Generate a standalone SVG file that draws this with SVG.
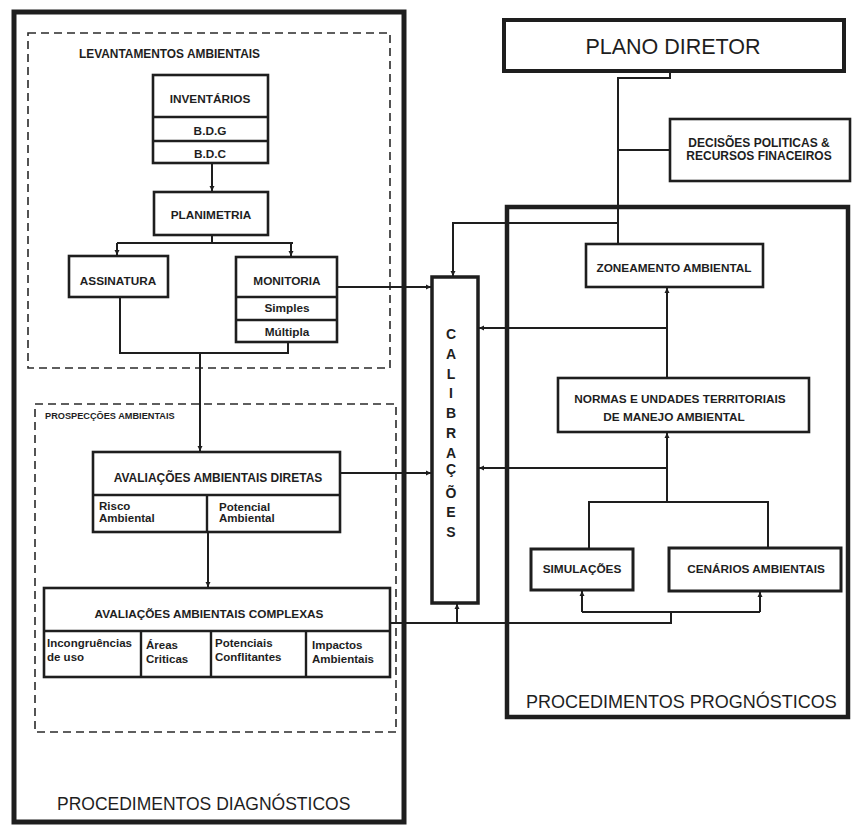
<svg xmlns="http://www.w3.org/2000/svg" width="852" height="828" viewBox="0 0 852 828">
<style>
text{font-family:"Liberation Sans",Arial,sans-serif;fill:#1e1e1e}
.b{font-weight:bold;font-size:11.8px}
.s{font-weight:bold;font-size:11.5px}
.m{text-anchor:middle}
.big{font-size:17.5px}
.box{fill:#fff;stroke:#1e1e1e;stroke-width:2.6}
.div{fill:none;stroke:#1e1e1e;stroke-width:2.4}
.frame{fill:none;stroke:#1e1e1e;stroke-width:5}
.dash{fill:none;stroke:#2a2a2a;stroke-width:1.6;stroke-dasharray:8 5}
.conn{fill:none;stroke:#1e1e1e;stroke-width:2}
.arr{marker-end:url(#ah)}
</style>
<defs>
<marker id="ah" markerUnits="userSpaceOnUse" markerWidth="6" markerHeight="6" refX="5" refY="3" orient="auto">
<path d="M0,0.5 L5,3 L0,5.5 z" fill="#1e1e1e"/>
</marker>
</defs>
<rect width="852" height="828" fill="#fff"/>

<g id="diagnosticos">
<rect class="frame" x="14" y="12" width="390" height="810"/>
<text x="57" y="810" class="big">PROCEDIMENTOS DIAGNÓSTICOS</text>
</g>
<g id="levantamentos">
<rect class="dash" x="28" y="33" width="362" height="335"/>
<text x="79" y="58" style="font-size:11.9px;font-weight:bold">LEVANTAMENTOS AMBIENTAIS</text>
</g>
<g id="prospeccoes">
<rect class="dash" x="35" y="404" width="361" height="328"/>
<text x="45" y="419" style="font-size:9.2px;font-weight:bold">PROSPECÇÕES AMBIENTAIS</text>
</g>
<g id="prognosticos">
<rect class="frame" x="507" y="207" width="341" height="510" style="stroke-width:4.5"/>
<text x="526" y="708" style="font-size:18px">PROCEDIMENTOS PROGNÓSTICOS</text>
</g>

<g id="connectors">
<path class="conn arr" d="M212,163 V191"/>
<path class="conn" d="M212,235 V243 M117,243 H293"/>
<path class="conn arr" d="M117,243 V255"/>
<path class="conn arr" d="M291,243 V256"/>
<path class="conn" d="M120,297 V353 H288 V342"/>
<path class="conn arr" d="M200,353 V451"/>
<path class="conn arr" d="M337,287 H431"/>
<path class="conn arr" d="M340,473 H431"/>
<path class="conn arr" d="M208,532 V587"/>
<path class="conn" d="M390,623 H671 V612 M582,612 H760"/>
<path class="conn arr" d="M582,612 V591"/>
<path class="conn arr" d="M760,612 V592"/>
<path class="conn arr" d="M457,623 V604"/>
<path class="conn" d="M670,71 V78 H618 V243 M618,150 H669"/>
<path class="conn arr" d="M618,223 H453 V276"/>
<path class="conn arr" d="M667,377 V288"/>
<path class="conn arr" d="M667,328 H479"/>
<path class="conn arr" d="M667,502 V433"/>
<path class="conn arr" d="M667,468 H479"/>
<path class="conn" d="M589,548 V502 H768 V547"/>
</g>

<g id="inventarios">
<rect class="box" x="153" y="75" width="115" height="88"/>
<path class="div" d="M153,117 H268 M153,141 H268"/>
<text x="210" y="103" class="b m">INVENTÁRIOS</text>
<text x="210" y="135" class="b m">B.D.G</text>
<text x="210" y="158" class="b m">B.D.C</text>
</g>
<g id="planimetria">
<rect class="box" x="154" y="192" width="114" height="43"/>
<text x="211" y="219" class="b m">PLANIMETRIA</text>
</g>
<g id="assinatura">
<rect class="box" x="69" y="256" width="99" height="41"/>
<text x="118" y="285" class="b m">ASSINATURA</text>
</g>
<g id="monitoria">
<rect class="box" x="236" y="257" width="101" height="85"/>
<path class="div" d="M236,297 H337 M236,320 H337"/>
<text x="287" y="285" class="b m">MONITORIA</text>
<text x="287" y="312" class="b m">Simples</text>
<text x="287" y="336" class="b m">Múltipla</text>
</g>
<g id="diretas">
<rect class="box" x="93" y="452" width="247" height="80"/>
<path class="div" d="M93,495 H340 M207,495 V532"/>
<text x="218" y="482" class="m" style="font-size:12px;font-weight:bold">AVALIAÇÕES AMBIENTAIS DIRETAS</text>
<text class="s"><tspan x="99" y="510">Risco</tspan><tspan x="99" y="522">Ambiental</tspan></text>
<text class="s"><tspan x="219" y="511">Potencial</tspan><tspan x="219" y="522">Ambiental</tspan></text>
</g>
<g id="complexas">
<rect class="box" x="44" y="588" width="346" height="89"/>
<path class="div" d="M44,631 H390 M141,631 V677 M211,631 V677 M306,631 V677"/>
<text x="209" y="618" class="b m">AVALIAÇÕES AMBIENTAIS COMPLEXAS</text>
<text class="s"><tspan x="47" y="647">Incongruências</tspan><tspan x="47" y="661">de uso</tspan></text>
<text class="s"><tspan x="146" y="649">Áreas</tspan><tspan x="146" y="663">Criticas</tspan></text>
<text class="s"><tspan x="215" y="647">Potenciais</tspan><tspan x="215" y="661">Conflitantes</tspan></text>
<text class="s"><tspan x="312" y="649">Impactos</tspan><tspan x="312" y="663">Ambientais</tspan></text>
</g>
<g id="calibracoes">
<rect class="box" x="432" y="277" width="46" height="326" style="stroke-width:3.5"/>
<text class="m" style="font-size:14px;font-weight:bold">
<tspan x="451" y="339">C</tspan><tspan x="451" y="359">A</tspan><tspan x="451" y="379">L</tspan><tspan x="451" y="398">I</tspan><tspan x="451" y="418">B</tspan><tspan x="451" y="438">R</tspan><tspan x="451" y="458">A</tspan><tspan x="451" y="474">Ç</tspan><tspan x="451" y="498">Õ</tspan><tspan x="451" y="517">E</tspan><tspan x="451" y="537">S</tspan>
</text>
</g>
<g id="plano-diretor">
<rect class="box" x="504" y="20" width="340" height="51" style="stroke-width:4"/>
<text x="673" y="54" class="m" style="font-size:21.5px">PLANO DIRETOR</text>
</g>
<g id="decisoes">
<rect class="box" x="670" y="119" width="180" height="62"/>
<text class="m" style="font-size:12px;font-weight:bold"><tspan x="759" y="147">DECISÕES POLITICAS &amp;</tspan><tspan x="759" y="160">RECURSOS FINACEIROS</tspan></text>
</g>
<g id="zoneamento">
<rect class="box" x="586" y="244" width="177" height="43"/>
<text x="674" y="272" class="b m">ZONEAMENTO AMBIENTAL</text>
</g>
<g id="normas">
<rect class="box" x="558" y="378" width="251" height="54"/>
<text x="680" y="403" class="b m">NORMAS E UNDADES TERRITORIAIS</text>
<text x="674" y="421" class="b m">DE MANEJO AMBIENTAL</text>
</g>
<g id="simulacoes">
<rect class="box" x="531" y="549" width="102" height="41" style="stroke-width:3"/>
<text x="582" y="573" class="b m">SIMULAÇÕES</text>
</g>
<g id="cenarios">
<rect class="box" x="669" y="548" width="172" height="43" style="stroke-width:3"/>
<text x="756" y="573" class="b m">CENÁRIOS AMBIENTAIS</text>
</g>
</svg>
